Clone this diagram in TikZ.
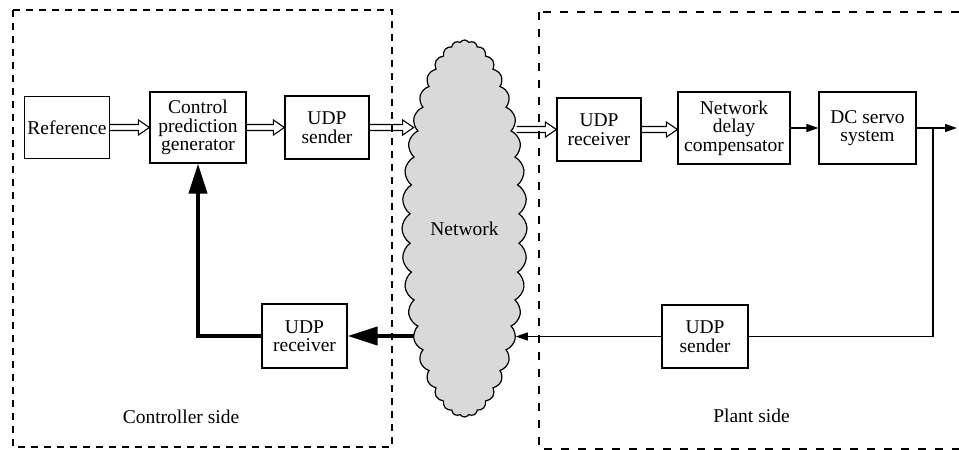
\documentclass[tikz,border=0pt]{standalone}
\usepackage{fontspec}
\setmainfont{Liberation Serif}
\usetikzlibrary{shapes.symbols,arrows.meta,calc}

\definecolor{cloudgray}{RGB}{217,217,217}

% outlined double-shaft arrow from #1 to #2 (same height, pointing right)
\newcommand{\hollowarrow}[2]{%
  \draw[blockline] ($(#1)+(0,-3)$) -- ($(#2)+(-11,-3)$) -- ($(#2)+(-11,-7.5)$)
    -- (#2) -- ($(#2)+(-11,7.5)$) -- ($(#2)+(-11,3)$) -- ($(#1)+(0,3)$);
}

\begin{document}
\begin{tikzpicture}[x=1pt,y=-1pt,
  txt/.style={font=\fontsize{19.5}{18.5}\selectfont},
  blockbox/.style={draw,line width=1.2pt,align=center,inner sep=0pt,txt},
  blockline/.style={line width=1.1pt,line join=miter},
  thinarrow/.style={line width=1.3pt,-{Triangle[length=12pt,width=8pt]}},
  thinline/.style={line width=1.3pt},
  heavyarrow/.style={line width=4pt,-{Triangle[length=30pt,width=18pt]}},
  regionbox/.style={dashed}
]
\useasboundingbox (0,0) rectangle (959,450);

% controller and plant regions
\draw[regionbox,line width=1.2pt,dash pattern=on 7pt off 6pt] (13,10) rectangle (392,447);
\draw[regionbox,line width=1.6pt,dash pattern=on 8pt off 9pt] (539,12) rectangle (975,449);

% network cloud
\node[cloud,cloud puffs=40,cloud puff arc=115,aspect=0.33,draw,fill=cloudgray,
      line width=1.2pt,minimum width=125pt,minimum height=377pt,inner sep=0pt,txt]
      (net) at (464.5,228.5) {Network};

% controller side blocks
\node[blockbox,minimum width=85pt,minimum height=62pt] (ref) at (67,127.5) {Reference};
\node[blockbox,minimum width=96pt,minimum height=71pt] (cpg) at (198,127.5) {Control\\prediction\\generator};
\node[blockbox,minimum width=84pt,minimum height=63pt] (csend) at (327,127.5) {UDP\\sender};
\node[blockbox,minimum width=85pt,minimum height=64pt] (crecv) at (304.5,336) {UDP\\receiver};

% plant side blocks
\node[blockbox,minimum width=84pt,minimum height=63pt] (precv) at (599,129.5) {UDP\\receiver};
\node[blockbox,minimum width=112pt,minimum height=72pt] (ndc) at (734,128) {Network\\delay\\compensator};
\node[blockbox,minimum width=97pt,minimum height=72pt] (dc) at (867.5,128) {DC servo\\system};
\node[blockbox,minimum width=86pt,minimum height=63pt] (psend) at (705,336.5) {UDP\\sender};

% forward path
\coordinate (a1) at (cpg.west |- ref.east);
\hollowarrow{ref.east}{a1}
\coordinate (a2) at (csend.west |- cpg.east);
\hollowarrow{cpg.east}{a2}
\coordinate (a3) at (csend.east -| net.118);
\hollowarrow{csend.east}{a3}
\coordinate (a4) at (net.61 |- precv.west);
\hollowarrow{a4}{precv.west}
\coordinate (a5) at (ndc.west |- precv.east);
\hollowarrow{precv.east}{a5}
\draw[thinarrow] (ndc.east) -- (ndc.east -| dc.west);

% plant output and feedback
\coordinate (yout) at (957,128);
\coordinate (br) at (933,128);
\draw[thinarrow] (dc.east) -- (yout);
\draw[thinline] (br) |- (psend.east);
\draw[thinarrow] (psend.west) -- (psend.west -| net.295);
\draw[heavyarrow] (crecv.east -| net.242) -- (crecv.east);
\draw[heavyarrow] (crecv.west) -| (cpg.south);

% region labels
\node[txt] (lctrl) at (181,417) {Controller side};
\node[txt] (lplant) at (751.5,416) {Plant side};
\end{tikzpicture}
\end{document}
